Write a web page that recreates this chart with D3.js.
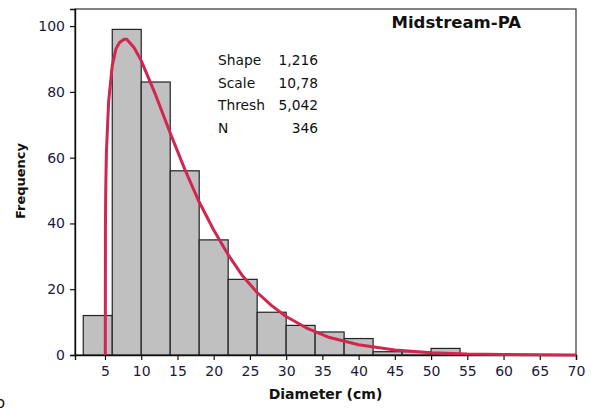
<!DOCTYPE html>
<html>
<head>
<meta charset="utf-8">
<script src="https://cdn.jsdelivr.net/npm/d3@7"></script>
<style>
  body { margin: 0; background: #fff; }
  svg { display: block; }
  text { font-family: "DejaVu Sans", Verdana, sans-serif; fill: #111; }
</style>
</head>
<body>
<svg id="chart" width="591" height="410"></svg>
<script>
// histogram bins (cm) and counts
var binStart = [2, 6, 10, 14, 18, 22, 26, 30, 34, 38, 42, 46, 50];
var binEnd   = [6, 10, 14, 18, 22, 26, 30, 34, 38, 42, 46, 50, 54];
var counts   = [12, 99, 83, 56, 35, 23, 13, 9, 7, 5, 1, 1, 2];

// fitted 3-parameter Weibull curve
var curveX = [5.042, 5.06, 5.1, 5.2, 5.5, 6, 6.5, 7, 7.65, 8, 9, 10, 12, 14, 16, 18, 20,
              22, 24, 26, 28, 30, 33, 36, 40, 45, 50, 55, 60, 65, 70];
var curveY = [0, 39, 50, 62, 77, 88, 93, 95, 96, 96, 93.5, 89.5, 79, 67.5, 56.5, 46.5, 38,
              30.5, 24, 19, 15, 11.7, 8, 5.3, 3.1, 1.5, 0.7, 0.3, 0.15, 0.07, 0.03];

var xTicks = [5, 10, 15, 20, 25, 30, 35, 40, 45, 50, 55, 60, 65, 70];
var yTicks = [0, 20, 40, 60, 80, 100];

var statLabels = ["Shape", "Scale", "Thresh", "N"];
var statValues = ["1,216", "10,78", "5,042", "346"];

var plotLeft = 75, plotRight = 576, plotTop = 9, plotBottom = 355;

var svg = d3.select("#chart");

var x = d3.scaleLinear().domain([0.86, 70]).range([plotLeft, plotRight]);
var y = d3.scaleLinear().domain([0, 105.2]).range([plotBottom, plotTop]);

// frame
svg.append("rect")
    .attr("x", plotLeft).attr("y", plotTop)
    .attr("width", plotRight - plotLeft).attr("height", plotBottom - plotTop)
    .attr("fill", "none").attr("stroke", "#333").attr("stroke-width", 1.2);

// bars
svg.selectAll(".bar")
    .data(counts)
    .enter().append("rect")
    .attr("class", "bar")
    .attr("x", function (d, i) { return x(binStart[i]); })
    .attr("y", function (d) { return y(d); })
    .attr("width", function (d, i) { return x(binEnd[i]) - x(binStart[i]); })
    .attr("height", function (d) { return plotBottom - y(d); })
    .attr("fill", "#c0c0c0")
    .attr("stroke", "#222")
    .attr("stroke-width", 1.2);

// axes
var xAxis = svg.append("g")
    .attr("transform", "translate(0," + plotBottom + ")")
    .call(d3.axisBottom(x).tickValues(xTicks).tickSize(5).tickPadding(6));
var yAxis = svg.append("g")
    .attr("transform", "translate(" + plotLeft + ",0)")
    .call(d3.axisLeft(y).tickValues(yTicks).tickSize(5).tickPadding(5));

[xAxis, yAxis].forEach(function (a) {
    a.select(".domain").attr("stroke", "#111").attr("stroke-width", 1.4);
    a.selectAll(".tick line").attr("stroke", "#111").attr("stroke-width", 1.2);
    a.selectAll(".tick text")
        .style("font-family", "'DejaVu Sans', Verdana, sans-serif")
        .style("font-size", "14px")
        .style("fill", "#1a1a3a");
});

// fitted curve
var line = d3.line()
    .x(function (d, i) { return x(curveX[i]); })
    .y(function (d) { return y(d); });

svg.append("path")
    .datum(curveY)
    .attr("d", line)
    .attr("fill", "none")
    .attr("stroke", "#d1264f")
    .attr("stroke-width", 3)
    .attr("stroke-linejoin", "round");

// title
svg.append("text")
    .attr("x", 521).attr("y", 28)
    .attr("text-anchor", "end")
    .style("font-weight", "bold")
    .style("font-size", "16.5px")
    .text("Midstream-PA");

// stats box
statLabels.forEach(function (s, i) {
    svg.append("text")
        .attr("x", 218).attr("y", 65 + i * 22.7)
        .style("font-size", "13.8px")
        .text(s);
    svg.append("text")
        .attr("x", 318).attr("y", 65 + i * 22.7)
        .attr("text-anchor", "end")
        .style("font-size", "13.8px")
        .text(statValues[i]);
});

// axis titles
svg.append("text")
    .attr("x", (plotLeft + plotRight) / 2).attr("y", 399)
    .attr("text-anchor", "middle")
    .style("font-weight", "bold")
    .style("font-size", "14px")
    .text("Diameter (cm)");

svg.append("text")
    .attr("transform", "translate(25," + 181 + ") rotate(-90)")
    .attr("text-anchor", "middle")
    .style("font-weight", "bold")
    .style("font-size", "13px")
    .text("Frequency");

// stray panel letter, cut at the edge
svg.append("text")
    .attr("x", -5).attr("y", 408)
    .style("font-size", "16px")
    .text("b");
</script>
</body>
</html>
